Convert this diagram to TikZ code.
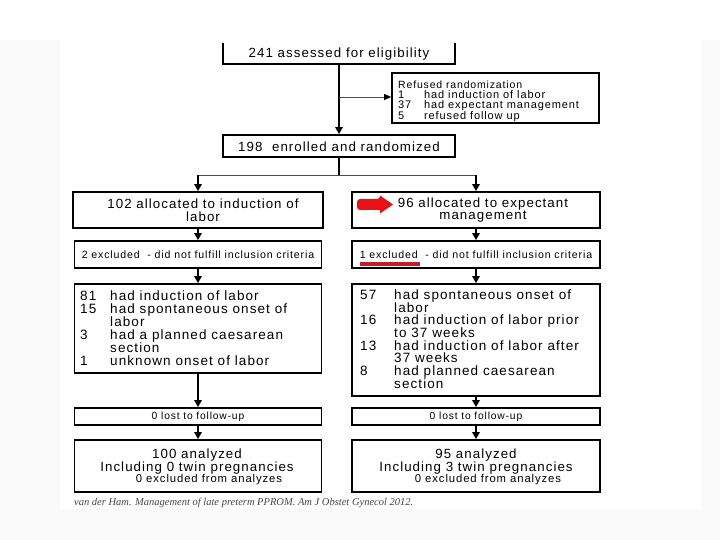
\documentclass[tikz,border=0pt]{standalone}
\usepackage{fontspec}
\setmainfont{Liberation Sans}[LetterSpace=8]
\newfontfamily\citefont{Liberation Serif}
\usetikzlibrary{arrows.meta}
\newcommand\fsz[1]{\fontsize{#1}{#1}\selectfont}
\begin{document}
\begin{tikzpicture}[x=1pt,y=-1pt,
  box/.style={draw=black,line width=1.8pt,inner sep=0pt},
  txt/.style={inner sep=0pt,align=center},
  arr/.style={line width=1.4pt,-{Triangle[length=7pt,width=7.5pt]}},
  thinline/.style={draw=gray!60!black,line width=0.8pt},
  lst/.style={inner sep=0pt,align=left,anchor=north west},
]
\useasboundingbox (0,0) rectangle (720,540);
\fill[white] (0,0) rectangle (720,540);
\fill[gray!4] (0,40) rectangle (720,540);
\fill[white] (60,40) rectangle (702,509);

% top box (top edge hidden)
\node[inner sep=0pt,minimum width=232pt,minimum height=21pt] (b1) at (339,53.5) {};
\draw[line width=1.8pt] (b1.north west) -- (b1.south west) -- (b1.south east) -- (b1.north east);
\node[txt,font=\fsz{13.3}] (t1) at (339,54) {241 assessed for eligibility};

% refused box
\node[box,minimum width=207pt,minimum height=50pt] (r) at (495.5,98) {};
\node[lst,font=\fontsize{11}{10}\selectfont] (rt) at (398,80.5)
  {{\fsz{10.5}Refused randomization}\\
   \makebox[26pt][l]{1}had induction of labor\\
   \makebox[26pt][l]{37}had expectant management\\
   \makebox[26pt][l]{5}refused follow up};

% enrolled
\node[box,minimum width=232pt,minimum height=22pt] (b2) at (339,146) {};
\node[txt,font=\fsz{13.3}] (t2) at (339,146.5) {198~~enrolled and randomized};

\draw[arr] (b1.south) -- (b2.north);
\coordinate (br) at (339,97);
\draw[thinline,-{Triangle[length=7pt,width=6pt,color=black]}] (br) -- (r.west |- br);

% split
\coordinate (sp) at (339,175);
\coordinate (sl) at (198,175);
\coordinate (sr) at (476,175);
\draw[line width=1.4pt] (b2.south) -- (sp);
\draw[thinline] (sl) -- (sr);

% allocation boxes
\node[box,minimum width=250pt,minimum height=36pt] (a1) at (198,210) {};
\node[box,minimum width=248pt,minimum height=36pt] (a2) at (476,210) {};
\draw[arr] (sl) -- (a1.north);
\draw[arr] (sr) -- (a2.north);
\node[txt,font=\fontsize{13.3}{12.5}\selectfont] (ta1) at (203,210) {102 allocated to induction of\\labor};
\node[txt,font=\fontsize{13.3}{12.5}\selectfont] (ta2) at (483,210) {96 allocated to expectant\\management};
\fill[color={rgb,255:red,232;green,18;blue,22},rounded corners=3pt]
  (357,199) -- (380,199) [sharp corners] -- (380,195.5) -- (393,204.5) -- (380,213.5) -- (380,210) [rounded corners=3pt] -- (357,210) -- cycle;

% excluded boxes
\node[box,minimum width=247pt,minimum height=27pt] (e1) at (198,254.5) {};
\node[box,minimum width=248pt,minimum height=27pt] (e2) at (476,254.5) {};
\node[txt,font=\fsz{10.6}] (te1) at (198,254.5) {2 excluded~ - did not fulfill inclusion criteria};
\node[txt,font=\fsz{10.6}] (te2) at (476,254.5) {1 excluded~ - did not fulfill inclusion criteria};
\fill[color={rgb,255:red,190;green,30;blue,45}] (360,262) rectangle (420,266);
\draw[arr] (a1.south) -- (e1.north);
\draw[arr] (a2.south) -- (e2.north);

% list boxes
\node[box,minimum width=247pt,minimum height=89pt] (l1) at (198,328.5) {};
\node[box,minimum width=248pt,minimum height=112pt] (l2) at (476,340) {};
\draw[arr] (e1.south) -- (l1.north);
\draw[arr] (e2.south) -- (l2.north);
\node[lst,font=\fontsize{13.5}{13}\selectfont] (tl1) at (80,291)
  {\makebox[30pt][l]{81}had induction of labor\\
   \makebox[30pt][l]{15}had spontaneous onset of\\
   \hspace*{30pt}labor\\
   \makebox[30pt][l]{3}had a planned caesarean\\
   \hspace*{30pt}section\\
   \makebox[30pt][l]{1}unknown onset of labor};
\node[lst,font=\fontsize{13.5}{12.7}\selectfont] (tl2) at (360,289.5)
  {\makebox[34pt][l]{57}had spontaneous onset of\\
   \hspace*{34pt}labor\\
   \makebox[34pt][l]{16}had induction of labor prior\\
   \hspace*{34pt}to 37 weeks\\
   \makebox[34pt][l]{13}had induction of labor after\\
   \hspace*{34pt}37 weeks\\
   \makebox[34pt][l]{8}had planned caesarean\\
   \hspace*{34pt}section};

% lost boxes
\node[box,minimum width=247pt,minimum height=17pt] (f1) at (198,416.5) {};
\node[box,minimum width=248pt,minimum height=17pt] (f2) at (476,416.5) {};
\node[txt,font=\fsz{10.3}] (tf1) at (198,416.5) {0 lost to follow-up};
\node[txt,font=\fsz{10.3}] (tf2) at (476,416.5) {0 lost to follow-up};
\draw[arr] (l1.south) -- (f1.north);
\draw[arr] (l2.south) -- (f2.north);

% analyzed boxes
\node[box,minimum width=247pt,minimum height=52pt] (n1) at (198,466) {};
\node[box,minimum width=248pt,minimum height=52pt] (n2) at (476,466) {};
\draw[arr] (f1.south) -- (n1.north);
\draw[arr] (f2.south) -- (n2.north);
\node[txt,font=\fontsize{13.3}{12.8}\selectfont] (tn1) at (197,461.5) {100 analyzed\\Including 0 twin pregnancies};
\node[txt,font=\fontsize{13.3}{12.8}\selectfont] (tn2) at (476,461.5) {95 analyzed\\Including 3 twin pregnancies};
\node[txt,font=\fsz{11.3}] (tx1) at (209,480) {0 excluded from analyzes};
\node[txt,font=\fsz{11.3}] (tx2) at (488,480) {0 excluded from analyzes};

% citation
\node[inner sep=0pt,anchor=west,font=\citefont\itshape\fsz{10.5},text=gray!55!black] (cite) at (74,503)
  {van der Ham. Management of late preterm PPROM. Am J Obstet Gynecol 2012.};
\end{tikzpicture}
\end{document}
